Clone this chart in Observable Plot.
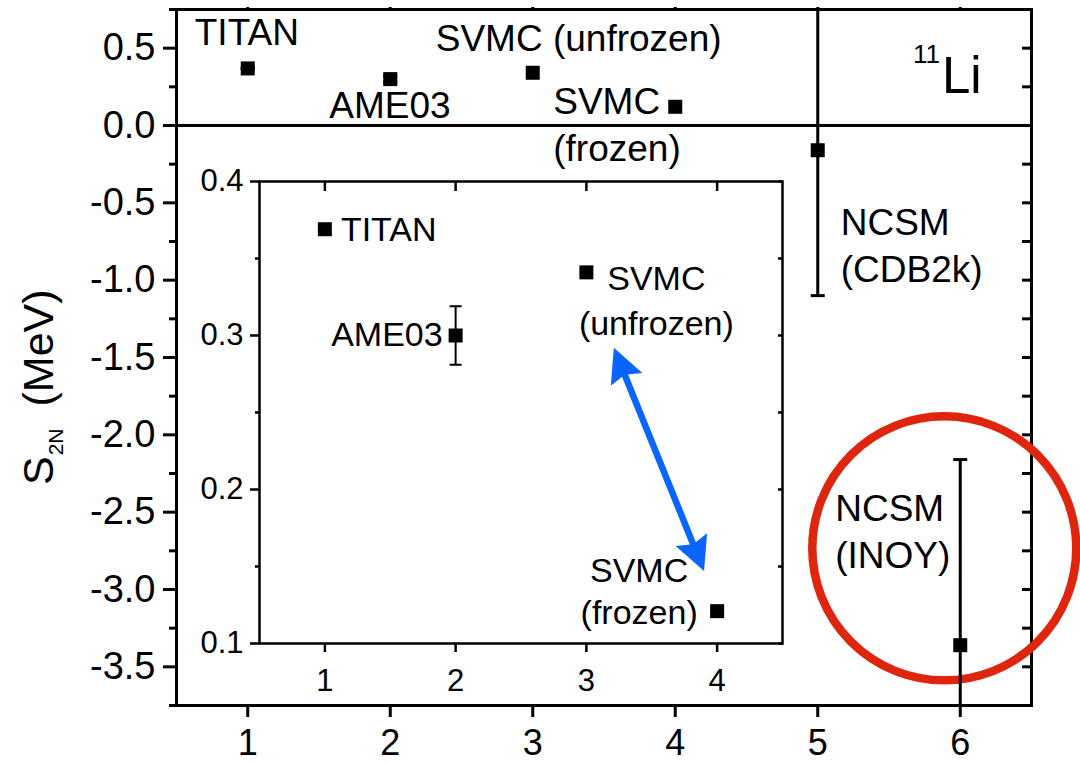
<!DOCTYPE html>
<html>
<head>
<meta charset="utf-8">
<script src="https://cdn.jsdelivr.net/npm/d3@7"></script>
<script src="https://cdn.jsdelivr.net/npm/@observablehq/plot@0.6"></script>
<style>
  body { margin: 0; background: #fff; }
  #chart { position: relative; width: 1080px; height: 763px; }
  #chart svg { position: absolute; left: 0; top: 0; }
</style>
</head>
<body>
<div id="chart"></div>
<script>
// ---------- data ----------
const methods = ["TITAN", "AME03", "SVMC (unfrozen)", "SVMC (frozen)", "NCSM (CDB2k)", "NCSM (INOY)"];
const xIndex = [1, 2, 3, 4, 5, 6];
const s2n = [0.369, 0.300, 0.341, 0.121, -0.16, -3.36];      // MeV
const s2nErr = [0.0007, 0.019, 0, 0, 0.94, 1.2];              // MeV
const mainLabels = ["TITAN", "AME03", "SVMC (unfrozen)", "SVMC\n(frozen)", "NCSM\n(CDB2k)", "NCSM\n(INOY)"];
const insetLabels = ["TITAN", "AME03", "SVMC\n(unfrozen)", "SVMC\n(frozen)"];

const mainYMajor = [-3.5, -3.0, -2.5, -2.0, -1.5, -1.0, -0.5, 0.0, 0.5];
const mainYMinor = [-3.75, -3.25, -2.75, -2.25, -1.75, -1.25, -0.75, -0.25, 0.25, 0.75];
const insetX = [1, 2, 3, 4];
const insetYMajor = [0.1, 0.2, 0.3, 0.4];
const insetYMinor = [0.15, 0.25, 0.35];

// annotations (data units)
const circleCenter = [{x: 5.888, y: -2.734}];
const arrowX = [3.21, 3.90];
const arrowY = [0.292, 0.147];

// ---------- styles ----------
const FONT = "'Liberation Sans', Arial, Helvetica, sans-serif";
const BLUE = "#0a64ff";
const RED = "#e0250f";
const W = 1080, H = 763;

const mainData = methods.map((m, i) => ({method: m, label: mainLabels[i], x: xIndex[i], y: s2n[i], err: s2nErr[i]}));
const insetData = mainData.slice(0, 4).map((d, i) => ({...d, label: insetLabels[i]}));

const capSym = (w) => ({draw(ctx) { ctx.moveTo(-w, 0); ctx.lineTo(w, 0); }});
const headSym = {draw(ctx) { ctx.moveTo(0, 0); ctx.lineTo(-17, 34); ctx.lineTo(0, 29); ctx.lineTo(17, 34); ctx.closePath(); }};
const blank = () => "";
const intFmt = d => String(d);

function errorMarks(data, sw, capW) {
  const e = data.filter(d => d.err > 0);
  return [
    Plot.ruleX(e, {x: "x", y1: d => d.y - d.err, y2: d => d.y + d.err, stroke: "black", strokeWidth: sw, clip: true}),
    Plot.dot(e, {x: "x", y: d => d.y - d.err, symbol: capSym(capW), r: 5, fill: "none", stroke: "black", strokeWidth: sw, clip: true}),
    Plot.dot(e, {x: "x", y: d => d.y + d.err, symbol: capSym(capW), r: 5, fill: "none", stroke: "black", strokeWidth: sw, clip: true})
  ];
}

function labelMark(data, i, size, opts) {
  return Plot.text([data[i]], {x: "x", y: "y", text: "label", fontSize: size, lineAnchor: "middle", fill: "black", ...opts});
}

// ---------- main plot ----------
const main = Plot.plot({
  width: W, height: H,
  marginLeft: 176, marginRight: 49, marginTop: 9, marginBottom: 58,
  x: {domain: [0.5, 6.5]},
  y: {domain: [-3.75, 0.75]},
  style: {fontFamily: FONT, background: "transparent", overflow: "visible", color: "black"},
  marks: [
    Plot.axisY(mainYMajor, {tickSize: 13, tickPadding: 8, tickFormat: d => d.toFixed(1), fontSize: 38, strokeWidth: 3, label: null}),
    Plot.axisY(mainYMinor, {tickSize: 7, tickFormat: blank, strokeWidth: 3, label: null}),
    Plot.axisY([...mainYMajor, ...mainYMinor], {anchor: "right", tickSize: -10, tickFormat: blank, strokeWidth: 3, label: null}),
    Plot.axisX(xIndex, {tickSize: 12, tickPadding: 12, tickFormat: intFmt, fontSize: 36, strokeWidth: 3, label: null}),
    Plot.axisX(xIndex, {anchor: "top", tickSize: 3, tickFormat: blank, strokeWidth: 3, label: null}),
    Plot.frame({strokeWidth: 3}),
    Plot.ruleY([0], {strokeWidth: 3}),
    Plot.dot(circleCenter, {x: "x", y: "y", r: 132, fill: "none", stroke: RED, strokeWidth: 8.5}),
    ...errorMarks(mainData, 3, 7),
    Plot.dot(mainData, {x: "x", y: "y", symbol: "square", r: 7.9, fill: "black"}),
    labelMark(mainData, 0, 37, {textAnchor: "start", dx: -53, dy: -35}),
    labelMark(mainData, 1, 37, {textAnchor: "start", dx: -61, dy: 27}),
    labelMark(mainData, 2, 37, {textAnchor: "start", dx: -97, dy: -34}),
    labelMark(mainData, 3, 37, {textAnchor: "start", dx: -122, dy: 16, lineHeight: 1.27}),
    labelMark(mainData, 4, 37, {textAnchor: "start", dx: 23, dy: 93, lineHeight: 1.28}),
    labelMark(mainData, 5, 37, {textAnchor: "start", dx: -125, dy: -116, lineHeight: 1.27})
  ]
});

// y-axis title with subscript
const yt = d3.select(main).append("text")
  .attr("transform", "translate(53,485) rotate(-90)")
  .attr("text-anchor", "start")
  .attr("font-family", FONT).attr("font-size", 43).attr("fill", "black");
yt.append("tspan").text("S");
yt.append("tspan").attr("font-size", 21).attr("dx", 1).attr("dy", 10).text("2N");
yt.append("tspan").attr("dx", 22).attr("dy", -10).text("(MeV)");

// nucleus tag
const nt = d3.select(main).append("text")
  .attr("x", 913).attr("y", 93)
  .attr("text-anchor", "start")
  .attr("font-family", FONT).attr("fill", "black");
nt.append("tspan").attr("font-size", 26).attr("dy", -30).text("11");
nt.append("tspan").attr("font-size", 51).attr("dx", 2).attr("dy", 30).text("Li");

// ---------- inset ----------
const iM = {left: 259, right: 298, top: 181, bottom: 120};
const ix = d3.scaleLinear([0.5, 4.5], [iM.left, W - iM.right]);
const iy = d3.scaleLinear([0.1, 0.4], [H - iM.bottom, iM.top]);
const heads = [0, 1].map(i => {
  const j = 1 - i;
  const ux = ix(arrowX[i]) - ix(arrowX[j]);
  const uy = iy(arrowY[i]) - iy(arrowY[j]);
  return {x: arrowX[i], y: arrowY[i], angle: Math.atan2(ux, -uy) * 180 / Math.PI};
});
const arrowSeg = [{x1: arrowX[0], y1: arrowY[0], x2: arrowX[1], y2: arrowY[1]}];

const inset = Plot.plot({
  width: W, height: H,
  marginLeft: iM.left, marginRight: iM.right, marginTop: iM.top, marginBottom: iM.bottom,
  x: {domain: [0.5, 4.5]},
  y: {domain: [0.1, 0.4]},
  style: {fontFamily: FONT, background: "transparent", overflow: "visible", color: "black"},
  marks: [
    Plot.axisY(insetYMajor, {tickSize: 9, tickPadding: 7, tickFormat: d => d.toFixed(1), fontSize: 31, strokeWidth: 2.5, label: null}),
    Plot.axisY(insetYMinor, {tickSize: 4, tickFormat: blank, strokeWidth: 2.5, label: null}),
    Plot.axisY([...insetYMajor, ...insetYMinor], {anchor: "right", tickSize: -5, tickFormat: blank, strokeWidth: 2.5, label: null}),
    Plot.axisX(insetX, {tickSize: 9, tickPadding: 16, tickFormat: intFmt, fontSize: 31, strokeWidth: 2.5, label: null}),
    Plot.axisX(insetX, {anchor: "top", tickSize: -9, tickFormat: blank, strokeWidth: 2.5, label: null}),
    Plot.frame({strokeWidth: 2.5}),
    ...errorMarks(insetData, 2, 6),
    Plot.dot(insetData, {x: "x", y: "y", symbol: "square", r: 7.9, fill: "black"}),
    labelMark(insetData, 0, 34, {textAnchor: "start", dx: 16, dy: 1}),
    labelMark(insetData, 1, 34, {textAnchor: "end", dx: -13, dy: 0}),
    labelMark(insetData, 2, 34, {textAnchor: "middle", dx: 70, dy: 26, lineHeight: 1.3}),
    labelMark(insetData, 3, 34, {textAnchor: "middle", dx: -78, dy: -22, lineHeight: 1.24}),
    Plot.arrow(arrowSeg, {x1: "x1", y1: "y1", x2: "x2", y2: "y2", stroke: BLUE, strokeWidth: 6.5, headLength: 0, insetStart: 22, insetEnd: 22}),
    Plot.dot(heads, {x: "x", y: "y", rotate: "angle", symbol: headSym, r: 10, fill: BLUE, stroke: "none"})
  ]
});

const chart = document.getElementById("chart");
chart.append(main);
chart.append(inset);
</script>
</body>
</html>
